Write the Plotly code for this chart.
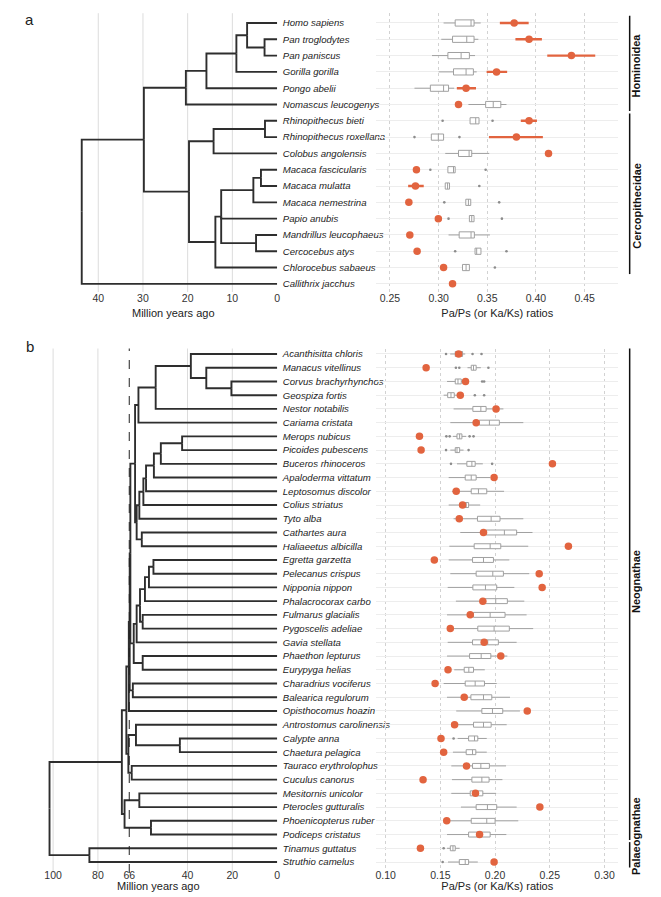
import plotly.graph_objects as go

FONT = "Liberation Sans Narrow, Arial Narrow, Liberation Sans, Arial"
RED = "#E2643F"
BOX_GREY = "#a0a0a0"
TREE_COL = "#2e2e2e"
W, H = 661, 897

# ---------------- panel a : primates ----------------
species_a = ["Homo sapiens", "Pan troglodytes", "Pan paniscus", "Gorilla gorilla", "Pongo abelii",
             "Nomascus leucogenys", "Rhinopithecus bieti", "Rhinopithecus roxellana", "Colobus angolensis",
             "Macaca fascicularis", "Macaca mulatta", "Macaca nemestrina", "Papio anubis",
             "Mandrillus leucophaeus", "Cercocebus atys", "Chlorocebus sabaeus", "Callithrix jacchus"]
wlo_a = [0.3051, 0.3027, 0.2932, 0.300, 0.2752, 0.3306, 0.3323, 0.2925, 0.3068, 0.3095, 0.3068, 0.3279, 0.3316, 0.3102, 0.3374, 0.3245, None]
q1_a = [0.3170, 0.3143, 0.3095, 0.3153, 0.2915, 0.3483, 0.3323, 0.2925, 0.3204, 0.3095, 0.3068, 0.3279, 0.3316, 0.3211, 0.3374, 0.3245, None]
med_a = [0.3333, 0.3289, 0.3231, 0.3282, 0.3051, 0.3561, 0.3381, 0.2997, 0.3313, 0.3153, 0.3092, 0.3306, 0.3340, 0.3333, 0.3391, 0.3282, None]
q3_a = [0.3364, 0.3364, 0.3316, 0.3357, 0.3102, 0.3639, 0.3415, 0.3051, 0.3340, 0.3170, 0.3112, 0.3330, 0.3364, 0.3367, 0.3435, 0.3316, None]
whi_a = [0.3432, 0.3408, 0.3374, 0.3391, 0.3160, 0.3697, 0.3415, 0.3051, 0.3520, 0.3170, 0.3112, 0.3330, 0.3364, 0.3527, 0.3435, 0.3316, None]
out_a = [[], [], [], [], [], [], [0.3041, 0.3554], [0.2752, 0.3214], [], [0.2915, 0.3483], [0.3418],
         [0.3058, 0.3622], [0.3102, 0.3650], [], [0.3170, 0.3697], [0.3578], []]
red_a = [0.3776, 0.3929, 0.4364, 0.3595, 0.3282, 0.3204, 0.3929, 0.3799, 0.4129, 0.2772, 0.2762, 0.2694, 0.2997, 0.2704, 0.2779, 0.3051, 0.3143]
red_lo_a = [0.3629, 0.3789, 0.4116, 0.3493, 0.3187, None, 0.3844, 0.3517, None, None, 0.2687, None, None, None, None, None, None]
red_hi_a = [0.3925, 0.4061, 0.4609, 0.3704, 0.3384, None, 0.4010, 0.4071, None, None, 0.2847, None, None, None, None, None, None]
ticks_a = [0.25, 0.30, 0.35, 0.40, 0.45]
tree_ticks_a = [40, 30, 20, 10, 0]
hominoidea = (((("Homo sapiens", ("Pan troglodytes", "Pan paniscus", 2.8), 6.7), "Gorilla gorilla", 9.1),
               "Pongo abelii", 15.8), "Nomascus leucogenys", 20.4)
colobinae = (("Rhinopithecus bieti", "Rhinopithecus roxellana", 2.7), "Colobus angolensis", 14.2)
papionini = ((("Macaca fascicularis", "Macaca mulatta", 3.6), "Macaca nemestrina", 5.3), "Papio anubis",
             ("Mandrillus leucophaeus", "Cercocebus atys", 4.7), 12.5)
cercopithecidae = (colobinae, (papionini, "Chlorocebus sabaeus", 13.8), 19.7)
tree_a = ((hominoidea, cercopithecidae, 29.8), "Callithrix jacchus", 43.7)
clades_a = ["Hominoidea", "Cercopithecidae"]
clade_rows_a = [(1, 6), (7, 16)]

# ---------------- panel b : birds ----------------
species_b = ["Acanthisitta chloris", "Manacus vitellinus", "Corvus brachyrhynchos", "Geospiza fortis",
             "Nestor notabilis", "Cariama cristata", "Merops nubicus", "Picoides pubescens",
             "Buceros rhinoceros", "Apaloderma vittatum", "Leptosomus discolor", "Colius striatus",
             "Tyto alba", "Cathartes aura", "Haliaeetus albicilla", "Egretta garzetta", "Pelecanus crispus",
             "Nipponia nippon", "Phalacrocorax carbo", "Fulmarus glacialis", "Pygoscelis adeliae",
             "Gavia stellata", "Phaethon lepturus", "Eurypyga helias", "Charadrius vociferus",
             "Balearica regulorum", "Opisthocomus hoazin", "Antrostomus carolinensis", "Calypte anna",
             "Chaetura pelagica", "Tauraco erythrolophus", "Cuculus canorus", "Mesitornis unicolor",
             "Pterocles gutturalis", "Phoenicopterus ruber", "Podiceps cristatus", "Tinamus guttatus",
             "Struthio camelus"]
wlo_b = [0.1590, 0.1748, 0.1561, 0.1530, 0.1621, 0.1591, 0.1615, 0.1591, 0.1652, 0.1576, 0.1606, 0.1576, 0.1621,
         0.1682, 0.1582, 0.1576, 0.1591, 0.1567, 0.1642, 0.1561, 0.1576, 0.1567, 0.1561, 0.1627, 0.1530, 0.1561,
         0.1645, 0.1652, 0.1658, 0.1615, 0.1600, 0.1606, 0.1600, 0.1688, 0.1576, 0.1561, 0.1561, 0.1570]
q1_b = [0.1636, 0.1782, 0.1636, 0.1567, 0.1797, 0.1855, 0.1652, 0.1636, 0.1742, 0.1727, 0.1782, 0.1682, 0.1839,
        0.1918, 0.1809, 0.1794, 0.1827, 0.1797, 0.1894, 0.1803, 0.1842, 0.1794, 0.1767, 0.1718, 0.1727, 0.1779,
        0.1879, 0.1803, 0.1758, 0.1736, 0.1794, 0.1788, 0.1773, 0.1827, 0.1782, 0.1758, 0.1591, 0.1673]
med_b = [0.1676, 0.1803, 0.1661, 0.1597, 0.1870, 0.1948, 0.1676, 0.1652, 0.1788, 0.1782, 0.1848, 0.1736, 0.1964,
         0.2085, 0.1955, 0.1894, 0.1979, 0.1912, 0.2006, 0.1955, 0.1991, 0.1933, 0.1873, 0.1760, 0.1818, 0.1894,
         0.1976, 0.1894, 0.1812, 0.1794, 0.1870, 0.1879, 0.1824, 0.1930, 0.1924, 0.1848, 0.1615, 0.1727]
q3_b = [0.1703, 0.1827, 0.1691, 0.1627, 0.1918, 0.2039, 0.1697, 0.1676, 0.1818, 0.1827, 0.1924, 0.1758, 0.2045,
        0.2197, 0.2052, 0.1985, 0.2076, 0.2015, 0.2112, 0.2091, 0.2130, 0.2030, 0.1961, 0.1803, 0.1903, 0.1970,
        0.2070, 0.1964, 0.1842, 0.1824, 0.1948, 0.1945, 0.1888, 0.2015, 0.2000, 0.1955, 0.1636, 0.1758]
whi_b = [0.1727, 0.1870, 0.1718, 0.1652, 0.2076, 0.2258, 0.1736, 0.1712, 0.1888, 0.1955, 0.2082, 0.1864, 0.2258,
         0.2342, 0.2303, 0.2130, 0.2312, 0.2176, 0.2267, 0.2288, 0.2348, 0.2197, 0.2112, 0.1906, 0.2015, 0.2136,
         0.2227, 0.2106, 0.1924, 0.1924, 0.2100, 0.2067, 0.2009, 0.2197, 0.2212, 0.2103, 0.1676, 0.1842]
out_b = [[0.1552, 0.1794, 0.1876], [0.1642, 0.1673, 0.1939], [0.1882, 0.1900], [0.1815, 0.1900], [], [],
         [0.1555, 0.1585, 0.1767, 0.1803], [0.1552, 0.1758], [0.1597, 0.1973], [], [], [], [], [], [], [], [], [],
         [], [], [], [], [], [], [], [], [], [], [0.1621], [], [], [], [], [], [], [], [0.1530], [0.1521]]
red_b = [0.1667, 0.1370, 0.1730, 0.1682, 0.2009, 0.1827, 0.1309, 0.1324, 0.2524, 0.1991, 0.1645, 0.1703, 0.1673,
         0.1894, 0.2670, 0.1445, 0.2403, 0.2430, 0.1888, 0.1773, 0.1591, 0.1900, 0.2052, 0.1570, 0.1452, 0.1718,
         0.2294, 0.1630, 0.1506, 0.1530, 0.1739, 0.1342, 0.1821, 0.2409, 0.1558, 0.1858, 0.1318, 0.1991]
ticks_b = [0.10, 0.15, 0.20, 0.25, 0.30]
tree_ticks_b = [100, 80, 66, 40, 20, 0]
passeriformes = ("Acanthisitta chloris", ("Manacus vitellinus", ("Corvus brachyrhynchos", "Geospiza fortis", 20.4), 31.6), 38.5)
australaves = ((passeriformes, "Nestor notabilis", 54.2), "Cariama cristata", 61.9)
coraciimorphae = ((((("Merops nubicus", "Picoides pubescens", 42.4), "Buceros rhinoceros", 51.9),
                    "Apaloderma vittatum", 55.0), "Leptosomus discolor", 58.5), "Colius striatus", 59.7)
afroaves = ((coraciimorphae, "Tyto alba", 61.5), ("Cathartes aura", "Haliaeetus albicilla", 60.4), 62.7)
landbirds = (australaves, afroaves, 63.4)
pelecaniformes = ((("Egretta garzetta", "Pelecanus crispus", 55.2), "Nipponia nippon", 57.2), "Phalacrocorax carbo", 59.0)
waterbirds = ((pelecaniformes, ("Fulmarus glacialis", "Pygoscelis adeliae", 60.0), 61.2), "Gavia stellata", 62.7)
core = (landbirds, (waterbirds, ("Phaethon lepturus", "Eurypyga helias", 60.0), 64.0), 65.5)
core = ((core, ("Charadrius vociferus", "Balearica regulorum", 64.4), 65.8), "Opisthocomus hoazin", 66.2)
strisores_otidae = (("Antrostomus carolinensis", ("Calypte anna", "Chaetura pelagica", 43.4), 63.0),
                    ("Tauraco erythrolophus", "Cuculus canorus", 64.9), 66.4)
passerea = (core, strisores_otidae, 67.3)
columbea = (("Mesitornis unicolor", "Pterocles gutturalis", 61.5), ("Phoenicopterus ruber", "Podiceps cristatus", 56.3), 68.1)
tree_b = ((passerea, columbea, 69.3), ("Tinamus guttatus", "Struthio camelus", 83.8), 101.6)
clades_b = ["Neognathae", "Palaeognathae"]
clade_rows_b = [(1, 36), (37, 38)]


def tree_lines(node, rows):
    """rectangular cladogram: returns age, y, xs, ys"""
    if isinstance(node, str):
        return 0.0, rows[node], [], []
    *kids, age = node
    info = [tree_lines(k, rows) for k in kids]
    ky = [i[1] for i in info]
    y = (min(ky) + max(ky)) / 2
    xs, ys = [], []
    for ka, kyy, kx, ks in info:
        xs += kx + [ka, age, age, None]
        ys += ks + [kyy, kyy, y, None]
    return age, y, xs, ys


def px_x(p):
    return p / W


def px_y(p):
    return 1 - p / H


fig = go.Figure()


def add_panel(n, species, tree, wlo, q1, med, q3, whi, outs, red, red_lo, red_hi, box_w):
    rows = {s: i + 1 for i, s in enumerate(species)}
    _, _, tx, ty = tree_lines(tree, rows)
    xa = "x" if n == 1 else f"x{n}"
    ya = "y" if n == 1 else f"y{n}"
    xb, yb = f"x{n + 1}", f"y{n + 1}"
    fig.add_trace(go.Scatter(x=tx, y=ty, mode="lines", line=dict(color=TREE_COL, width=1.9),
                             hoverinfo="skip", showlegend=False, xaxis=xa, yaxis=ya))
    keep = [i for i in range(len(species)) if q1[i] is not None]
    fig.add_trace(go.Box(
        y=[i + 1 for i in keep], q1=[q1[i] for i in keep], median=[med[i] for i in keep],
        q3=[q3[i] for i in keep], lowerfence=[wlo[i] for i in keep], upperfence=[whi[i] for i in keep],
        orientation="h", width=box_w, whiskerwidth=0, boxpoints=False,
        fillcolor="white", line=dict(color=BOX_GREY, width=1), showlegend=False, xaxis=xb, yaxis=yb))
    ox = [v for o in outs for v in o]
    oy = [i + 1 for i, o in enumerate(outs) for _ in o]
    fig.add_trace(go.Scatter(x=ox, y=oy, mode="markers", marker=dict(color="#8c8c8c", size=2.6),
                             showlegend=False, xaxis=xb, yaxis=yb))
    err = None
    if red_lo is not None:
        plus = [(h - r) if h is not None else 0 for h, r in zip(red_hi, red)]
        minus = [(r - l) if l is not None else 0 for l, r in zip(red_lo, red)]
        err = dict(type="data", array=plus, arrayminus=minus, color=RED, thickness=2.4, width=0)
    fig.add_trace(go.Scatter(x=red, y=list(range(1, len(red) + 1)), mode="markers", error_x=err,
                             marker=dict(color=RED, size=7.5), showlegend=False, xaxis=xb, yaxis=yb))


add_panel(1, species_a, tree_a, wlo_a, q1_a, med_a, q3_a, whi_a, out_a, red_a, red_lo_a, red_hi_a, 0.38)
add_panel(3, species_b, tree_b, wlo_b, q1_b, med_b, q3_b, whi_b, out_b, red_b, None, None, 0.36)

tick_font = dict(family=FONT, size=10.5, color="#333333")
title_font = dict(family=FONT, size=11, color="#222222")
lab_font = dict(family=FONT, size=9.6, color="#222222")

dom_a = [px_y(284), px_y(5.2)]
dom_b = [px_y(865), px_y(340.5)]
tree_dom_a = [px_x(60), px_x(270)]
tree_dom_b = [px_x(30), px_x(270)]
box_dom = [px_x(369), px_x(612)]

x_a = dict(zeroline=False, showline=False, ticks="", tickfont=tick_font, title_font=title_font,
           ticklabelstandoff=-2, title_standoff=6)
x_b = dict(zeroline=False, showline=False, ticks="", tickfont=tick_font, title_font=title_font,
           ticklabelstandoff=-6, title_standoff=2)
fig.update_layout(
    width=W, height=H, margin=dict(l=0, r=0, t=0, b=0),
    plot_bgcolor="white", paper_bgcolor="white", showlegend=False,
    xaxis=dict(domain=tree_dom_a, anchor="y", range=[46.61, -0.16], tickvals=tree_ticks_a,
               showgrid=False, title_text="Million years ago", **x_a),
    yaxis=dict(domain=dom_a, anchor="x", range=[17.5, 0.4], side="right", tickvals=list(range(1, 18)),
               ticktext=[f"<i>{s}</i>" for s in species_a], tickfont=lab_font, ticks="",
               ticklabelstandoff=4, showgrid=False, zeroline=False, showline=False),
    xaxis2=dict(domain=box_dom, anchor="y2", range=[0.236, 0.4845], tickvals=ticks_a,
                ticktext=[f"{t:.2f}" for t in ticks_a], showgrid=True, gridcolor="#d2d2d2", griddash="dot",
                gridwidth=1, title_text="Pa/Ps (or Ka/Ks) ratios", **x_a),
    yaxis2=dict(domain=dom_a, anchor="x2", range=[17.5, 0.4], tickvals=list(range(1, 18)),
                showticklabels=False, showgrid=True, gridcolor="#ededed", zeroline=False, ticks=""),
    xaxis3=dict(domain=tree_dom_b, anchor="y3", range=[106.36, -0.31], tickvals=tree_ticks_b,
                showgrid=False, title_text="Million years ago", **x_b),
    yaxis3=dict(domain=dom_b, anchor="x3", range=[38.8, 0.6], side="right", tickvals=list(range(1, 39)),
                ticktext=[f"<i>{s}</i>" for s in species_b], tickfont=lab_font, ticks="",
                ticklabelstandoff=4, showgrid=False, zeroline=False, showline=False),
    xaxis4=dict(domain=box_dom, anchor="y4", range=[0.0915, 0.3125], tickvals=ticks_b,
                ticktext=[f"{t:.2f}" for t in ticks_b], showgrid=True, gridcolor="#d2d2d2", griddash="dot",
                gridwidth=1, title_text="Pa/Ps (or Ka/Ks) ratios", **x_b),
    yaxis4=dict(domain=dom_b, anchor="x4", range=[38.8, 0.6], tickvals=list(range(1, 39)),
                showticklabels=False, showgrid=True, gridcolor="#ededed", zeroline=False, ticks=""),
)

# tree grid lines
for v in [40, 30, 20, 10]:
    fig.add_shape(type="line", x0=v, x1=v, y0=0, y1=1, xref="x", yref="y domain",
                  line=dict(color="#dcdcdc", width=1), layer="below")
for v in [100, 80, 40, 20]:
    fig.add_shape(type="line", x0=v, x1=v, y0=0, y1=1, xref="x3", yref="y3 domain",
                  line=dict(color="#dcdcdc", width=1), layer="below")
fig.add_shape(type="line", x0=66, x1=66, y0=0, y1=1, xref="x3", yref="y3 domain",
              line=dict(color="#222222", width=1, dash="dash"))

# clade bars and labels
bar_x = px_x(623.5)
for names, spans, yref, lab_y in [(clades_a, clade_rows_a, "y2", [3.6, 12.2]),
                                  (clades_b, clade_rows_b, "y4", [17.6, 36.1])]:
    for name, (r0, r1), ly in zip(names, spans, lab_y):
        fig.add_shape(type="line", x0=bar_x, x1=bar_x, y0=r0 - 0.45, y1=r1 + 0.4, xref="paper", yref=yref,
                      line=dict(color="#111111", width=1.5))
        fig.add_annotation(text=f"<b>{name}</b>", x=px_x(638), y=ly, xref="paper", yref=yref,
                           textangle=-90, showarrow=False, font=dict(family=FONT, size=11, color="#111111"))

for t, y in [("a", 12), ("b", 338)]:
    fig.add_annotation(text=t, x=px_x(21), y=px_y(y), xref="paper", yref="paper", showarrow=False,
                       xanchor="center", yanchor="middle",
                       font=dict(family="Liberation Sans, Arial", size=15, color="#222222"))

fig.write_html("out.html")
